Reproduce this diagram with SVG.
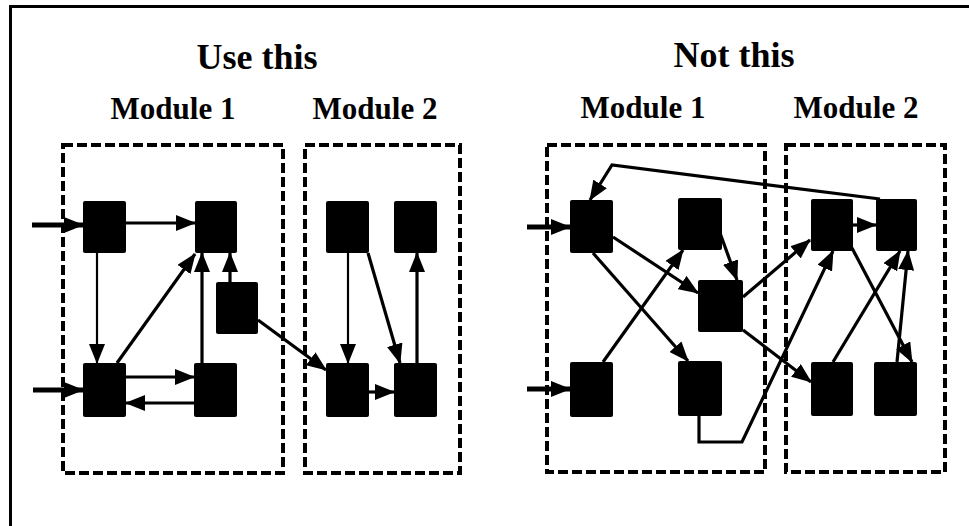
<svg xmlns="http://www.w3.org/2000/svg" width="969" height="526" viewBox="0 0 969 526">
<style>
.t{font-family:"Liberation Serif","Times New Roman",serif;font-weight:bold;fill:#000;text-anchor:middle}
.title{font-size:36px}
.mod{font-size:31px}
.box{fill:none;stroke:#000;stroke-width:4;stroke-dasharray:10 4}
.n{fill:#000}
.c{fill:none;stroke:#000;stroke-width:3.2;marker-end:url(#ah)}
.thin{stroke-width:2.2}
.in{stroke-width:5}
</style>
<defs>
<marker id="ah" markerUnits="userSpaceOnUse" markerWidth="20" markerHeight="16" refX="19" refY="8" orient="auto">
<path d="M0,0 L20,8 L0,16 z" fill="#000"/>
</marker>
</defs>
<g id="frame" fill="none" stroke="#000" stroke-width="3">
<path d="M10.5,526 L10.5,6.5 L969,6.5"/>
</g>
<g id="titles">
<text class="t title" x="257" y="69">Use this</text>
<text class="t title" x="734" y="67">Not this</text>
<text class="t mod" x="173" y="119">Module 1</text>
<text class="t mod" x="375" y="119">Module 2</text>
<text class="t mod" x="643" y="118">Module 1</text>
<text class="t mod" x="856" y="118">Module 2</text>
</g>
<g id="modules">
<rect id="L-mod1" class="box" x="63" y="145" width="220" height="328"/>
<rect id="L-mod2" class="box" x="305" y="145" width="155" height="328"/>
<rect id="R-mod1" class="box" x="547" y="145" width="218" height="327"/>
<rect id="R-mod2" class="box" x="786" y="145" width="159" height="327"/>
</g>
<g id="connectors">
<path class="c in" d="M32,225 L83,225"/>
<path class="c in" d="M33,390 L83,390"/>
<path class="c" d="M126,223 L195,223"/>
<path class="c thin" d="M97,253 L97,363"/>
<path class="c" d="M117,363 L195,254"/>
<path class="c" d="M202,363 L202,253"/>
<path class="c" d="M230,282 L230,253"/>
<path class="c" d="M126,377 L194,377"/>
<path class="c" d="M194,403 L126,403"/>
<path class="c" d="M258,320 L326,370"/>
<path class="c thin" d="M348,253 L348,363"/>
<path class="c" d="M368,253 L400,363"/>
<path class="c" d="M417,363 L417,253"/>
<path class="c" d="M369,392 L394,392"/>
<path class="c in" d="M527,227 L570,227"/>
<path class="c in" d="M527,389 L570,389"/>
<path class="c" d="M880,199 L612,165 L590,200"/>
<path class="c" d="M613,237 L698,293"/>
<path class="c" d="M593,253 L688,361"/>
<path class="c" d="M603,362 L683,250"/>
<path class="c" d="M720,233 L737,280"/>
<path class="c" d="M743,297 L810,240"/>
<path class="c" d="M743,330 L811,382"/>
<path class="c" d="M699,416 L699,442 L742,442 L833,251"/>
<path class="c" d="M853,225 L876,225"/>
<path class="c" d="M833,362 L900,251"/>
<path class="c" d="M852,248 L912,362"/>
<path class="c" d="M897,362 L908,251"/>
</g>
<g id="L-A"><rect class="n" x="83" y="201" width="43" height="52" rx="2"/></g>
<g id="L-B"><rect class="n" x="195" y="201" width="42" height="52" rx="2"/></g>
<g id="L-C"><rect class="n" x="216" y="282" width="42" height="52" rx="2"/></g>
<g id="L-D"><rect class="n" x="83" y="363" width="43" height="54" rx="2"/></g>
<g id="L-E"><rect class="n" x="194" y="363" width="43" height="54" rx="2"/></g>
<g id="L-F"><rect class="n" x="326" y="201" width="43" height="52" rx="2"/></g>
<g id="L-G"><rect class="n" x="394" y="201" width="43" height="52" rx="2"/></g>
<g id="L-H"><rect class="n" x="326" y="363" width="43" height="54" rx="2"/></g>
<g id="L-I"><rect class="n" x="394" y="363" width="43" height="54" rx="2"/></g>
<g id="R-P"><rect class="n" x="570" y="200" width="43" height="53" rx="2"/></g>
<g id="R-Q"><rect class="n" x="678" y="198" width="44" height="52" rx="2"/></g>
<g id="R-R"><rect class="n" x="698" y="280" width="45" height="52" rx="2"/></g>
<g id="R-S"><rect class="n" x="570" y="362" width="43" height="55" rx="2"/></g>
<g id="R-T"><rect class="n" x="678" y="361" width="44" height="55" rx="2"/></g>
<g id="R-U"><rect class="n" x="811" y="199" width="42" height="52" rx="2"/></g>
<g id="R-V"><rect class="n" x="876" y="199" width="41" height="52" rx="2"/></g>
<g id="R-W"><rect class="n" x="811" y="362" width="42" height="54" rx="2"/></g>
<g id="R-X"><rect class="n" x="874" y="362" width="43" height="54" rx="2"/></g>
</svg>
